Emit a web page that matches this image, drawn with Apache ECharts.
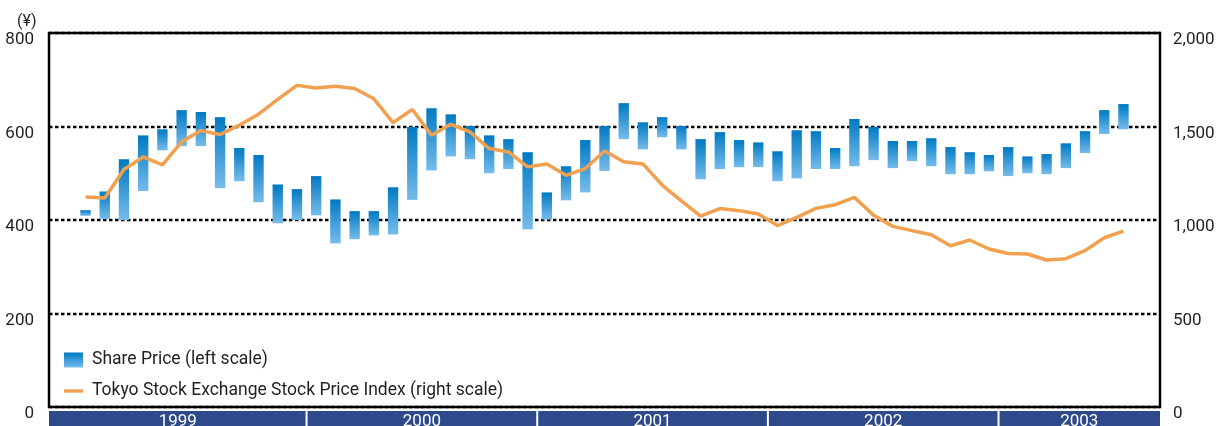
<!DOCTYPE html>
<html>
<head>
<meta charset="utf-8">
<script src="https://cdn.jsdelivr.net/npm/echarts@6/dist/echarts.min.js"></script>
<style>
  html, body { margin: 0; padding: 0; background: #fff; }
  #chart { width: 1226px; height: 426px; }
</style>
</head>
<body>
<div id="chart"></div>
<script>
// monthly data, Jan 1999 .. Jul 2003
const years = ['1999', '2000', '2001', '2002', '2003'];
const monthsPerYear = [12, 12, 12, 12, 7];

// share price monthly range (yen, left scale)
const priceLow = [
  409, 402, 400, 462, 549, 558, 558, 468, 483, 438, 393, 400,
  410, 350, 359, 367, 369, 443, 506, 536, 530, 500, 509, 380,
  401, 442, 459, 505, 573, 551, 577, 551, 487, 509, 513, 513,
  483, 489, 509, 509, 515, 528, 511, 526, 515, 498, 498, 504,
  494, 500, 498, 511, 543, 584, 594
];
const priceHigh = [
  421, 461, 530, 581, 594, 635, 631, 620, 554, 539, 476, 466,
  494, 444, 419, 419, 470, 599, 639, 626, 601, 581, 573, 545,
  459, 515, 571, 601, 650, 609, 620, 601, 573, 588, 571, 566,
  547, 592, 590, 554, 616, 599, 569, 569, 575, 556, 545, 539,
  556, 536, 541, 564, 590, 635, 648
];
// TOPIX (right scale)
const topix = [
  1123, 1118, 1270, 1337, 1295, 1418, 1478, 1457, 1507, 1566, 1645, 1720,
  1706, 1715, 1703, 1648, 1521, 1591, 1453, 1512, 1471, 1382, 1364, 1284,
  1300, 1239, 1275, 1369, 1312, 1300, 1187, 1102, 1021, 1061, 1050, 1032,
  970, 1014, 1062, 1082, 1121, 1025, 966, 943, 921, 862, 893, 845,
  821, 818, 786, 793, 836, 905, 941
];

const leftTicks = [0, 200, 400, 600, 800];
const rightTicks = [0, 500, 1000, 1500, 2000];

const FONT = 'Roboto, "Liberation Sans", sans-serif';
const TEXT = '#231f20';
const ORANGE = '#f0a04e';

const chart = echarts.init(document.getElementById('chart'));

const barGrad = new echarts.graphic.LinearGradient(0, 0, 0, 1, [
  { offset: 0, color: '#0079c2' },
  { offset: 1, color: '#76bceb' }
]);

// year band rows: [firstMonth, lastMonth, yearIndex]
let acc = 0;
const yearRows = monthsPerYear.map((n, i) => {
  const row = [acc, acc + n - 1, i];
  acc += n;
  return row;
});

const option = {
  animation: false,
  title: {
    text: '(¥)',
    left: 12,
    top: 9,
    textStyle: { fontSize: 16, fontWeight: 'normal', color: TEXT, fontFamily: FONT }
  },
  legend: {
    orient: 'vertical',
    left: 64,
    top: 351,
    padding: 0,
    itemWidth: 19,
    itemHeight: 15,
    itemGap: 13,
    textStyle: { fontSize: 17.5, color: TEXT, fontFamily: FONT, lineHeight: 15, padding: [0, 0, 0, 4] },
    data: [
      { name: 'Share Price (left scale)', icon: 'rect' },
      {
        name: 'Tokyo Stock Exchange Stock Price Index (right scale)',
        icon: 'path://M0,0h20v3.5h-20z',
        itemStyle: { color: ORANGE }
      }
    ]
  },
  grid: [
    { left: 49, right: 66, top: 33, bottom: 19, show: true, borderColor: '#000', borderWidth: 2.5 },
    { left: 49, right: 66, top: 411, height: 20 }
  ],
  xAxis: [
    { type: 'value', min: -1.9, max: 55.9, show: false },
    { type: 'value', gridIndex: 1, min: -1.9, max: 55.9, show: false }
  ],
  yAxis: [
    {
      type: 'value',
      min: leftTicks[0],
      max: leftTicks[leftTicks.length - 1],
      interval: 200,
      axisLine: { show: false },
      axisTick: { show: false },
      axisLabel: { margin: 15, fontSize: 17, color: TEXT, fontFamily: FONT, verticalAlign: 'top', lineHeight: 14 },
      splitLine: { lineStyle: { color: '#000', width: 2.3, type: [3.5, 2.5] } }
    },
    {
      type: 'value',
      min: rightTicks[0],
      max: rightTicks[rightTicks.length - 1],
      interval: 500,
      axisLine: { show: false },
      axisTick: { show: false },
      splitLine: { show: false },
      axisLabel: {
        margin: 13,
        fontSize: 17,
        color: TEXT,
        fontFamily: FONT,
        verticalAlign: 'top',
        lineHeight: 14,
        formatter: v => v.toLocaleString('en-US')
      }
    },
    { type: 'value', gridIndex: 1, min: 0, max: 1, show: false }
  ],
  series: [
    {
      name: 'Share Price (left scale)',
      type: 'custom',
      itemStyle: { color: barGrad },
      encode: { x: 0, y: [1, 2] },
      data: priceLow.map((lo, i) => [i, lo, priceHigh[i]]),
      renderItem(params, api) {
        const x = api.value(0);
        const top = api.coord([x, api.value(2)]);
        const bot = api.coord([x, api.value(1)]);
        const w = api.size([1, 0])[0] * 0.54;
        return {
          type: 'rect',
          shape: { x: top[0] - w / 2, y: top[1], width: w, height: bot[1] - top[1] },
          style: { fill: barGrad }
        };
      }
    },
    {
      name: 'Tokyo Stock Exchange Stock Price Index (right scale)',
      type: 'line',
      yAxisIndex: 1,
      symbol: 'none',
      lineStyle: { color: ORANGE, width: 3.5 },
      itemStyle: { color: ORANGE },
      data: topix.map((v, i) => [i, v])
    },
    {
      type: 'custom',
      xAxisIndex: 1,
      yAxisIndex: 2,
      silent: true,
      data: yearRows,
      renderItem(params, api) {
        const cs = params.coordSys;
        const idx = api.value(2);
        const x0 = idx === 0 ? cs.x : api.coord([api.value(0) - 0.5, 0])[0];
        const x1 = idx === years.length - 1 ? cs.x + cs.width : api.coord([api.value(1) + 0.5, 0])[0];
        const l = idx === 0 ? x0 : x0 + 1;
        const r = idx === years.length - 1 ? x1 : x1 - 1;
        return {
          type: 'group',
          children: [
            { type: 'rect', shape: { x: l, y: cs.y, width: r - l, height: 20 }, style: { fill: '#2f4a8a' } },
            {
              type: 'text',
              style: {
                text: years[idx],
                x: (x0 + x1) / 2,
                y: cs.y + 11,
                align: 'center',
                verticalAlign: 'middle',
                fill: '#fff',
                font: '17px ' + FONT
              }
            }
          ]
        };
      }
    }
  ]
};

chart.setOption(option);
</script>
</body>
</html>
